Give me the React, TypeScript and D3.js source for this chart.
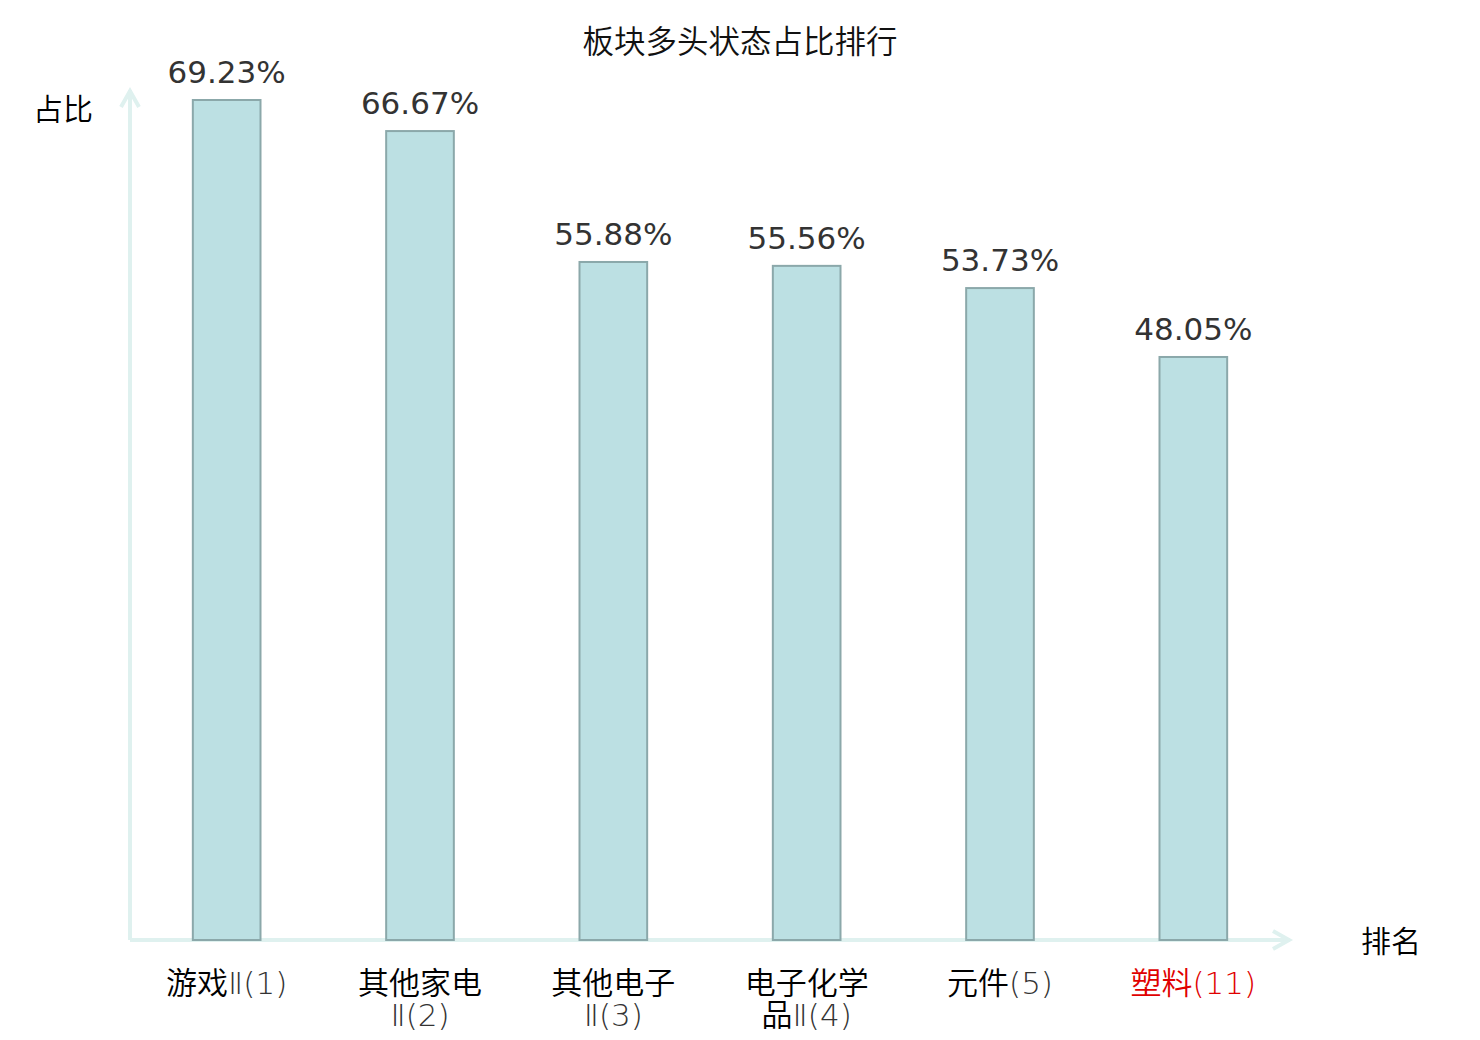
import React from 'react';
import * as d3 from 'd3';

const categories = ['游戏Ⅱ(1)', '其他家电Ⅱ(2)', '其他电子Ⅱ(3)', '电子化学品Ⅱ(4)', '元件(5)', '塑料(11)'];
const values = [69.23, 66.67, 55.88, 55.56, 53.73, 48.05];
const highlighted = ['塑料(11)'];
const title = '板块多头状态占比排行';
const yName = '占比';
const xName = '排名';

const W = 1480;
const H = 1040;
const margin = { top: 100, right: 190, bottom: 100, left: 130 };

const cjk = '"Noto Sans CJK SC", "DejaVu Sans", sans-serif';
const latin = '"DejaVu Sans", "Noto Sans CJK SC", sans-serif';
const axisColor = '#dff1ef';

// split long labels onto two lines, four characters first
function wrap(label: string): string[] {
  return label.length > 6 ? [label.slice(0, 4), label.slice(4)] : [label];
}

// CJK part in the CJK font, the rest (Ⅱ, digits, brackets) in a thin latin face
function parts(line: string): { t: string; cjk: boolean }[] {
  const out: { t: string; cjk: boolean }[] = [];
  for (const ch of line) {
    const isCjk = /[\u4e00-\u9fff]/.test(ch);
    const last = out[out.length - 1];
    if (last && last.cjk === isCjk) last.t += ch;
    else out.push({ t: ch, cjk: isCjk });
  }
  return out;
}

export default function App() {
  const x0 = margin.left;
  const x1 = W - margin.right;
  const y0 = H - margin.bottom;

  const x = d3.scaleBand<string>().domain(categories).range([x0, x1]).paddingInner(0.65).paddingOuter(0.325);
  const y = d3.scaleLinear().domain([0, d3.max(values) as number]).range([y0, margin.top]);

  return (
    <svg width={W} height={H} style={{ position: 'absolute', left: 0, top: 0 }}>
      <text x={740} y={53} textAnchor="middle" fontFamily={cjk} fontSize={31.5} fontWeight={350} fill="#111">
        {title}
      </text>

      {/* axes with open arrow heads */}
      <line x1={x0} y1={y0} x2={x0} y2={90} stroke={axisColor} strokeWidth={4} />
      <path d={`M${x0 - 9},${107} L${x0},${91} L${x0 + 9},${107}`} fill="none" stroke={axisColor} strokeWidth={4} />
      <line x1={x0} y1={y0} x2={x1} y2={y0} stroke={axisColor} strokeWidth={4} />
      <path d={`M${x1 - 17},${y0 - 9} L${x1 - 1},${y0} L${x1 - 17},${y0 + 9}`} fill="none" stroke={axisColor} strokeWidth={4} />

      <text x={63} y={120} textAnchor="middle" fontFamily={cjk} fontSize={30} fontWeight={350} fill="#000">
        {yName}
      </text>
      <text x={1391} y={952} textAnchor="middle" fontFamily={cjk} fontSize={30} fontWeight={350} fill="#000">
        {xName}
      </text>

      {categories.map((c, i) => {
        const bx = x(c) as number;
        const cx = bx + x.bandwidth() / 2;
        const lines = wrap(c);
        const color = highlighted.includes(c) ? '#e00000' : '#000';
        return (
          <g key={c}>
            <rect x={bx} y={y(values[i])} width={x.bandwidth()} height={y0 - y(values[i])} fill="#bce0e3" stroke="#8ba8aa" strokeWidth={2} />
            <text x={cx} y={y(values[i]) - 17} textAnchor="middle" fontFamily={latin} fontSize={31} fill="#333">
              {values[i].toFixed(2) + '%'}
            </text>
            {lines.map((l, j) => (
              <text key={j} x={cx} y={994 + j * 32} textAnchor="middle" fontSize={31} fill={color}>
                {parts(l).map((p, k) => (
                  <tspan key={k} fontFamily={p.cjk ? cjk : latin} fontWeight={p.cjk ? 350 : 200} fill={p.cjk ? color : highlighted.includes(c) ? color : '#333'}>
                    {p.t}
                  </tspan>
                ))}
              </text>
            ))}
          </g>
        );
      })}
    </svg>
  );
}
